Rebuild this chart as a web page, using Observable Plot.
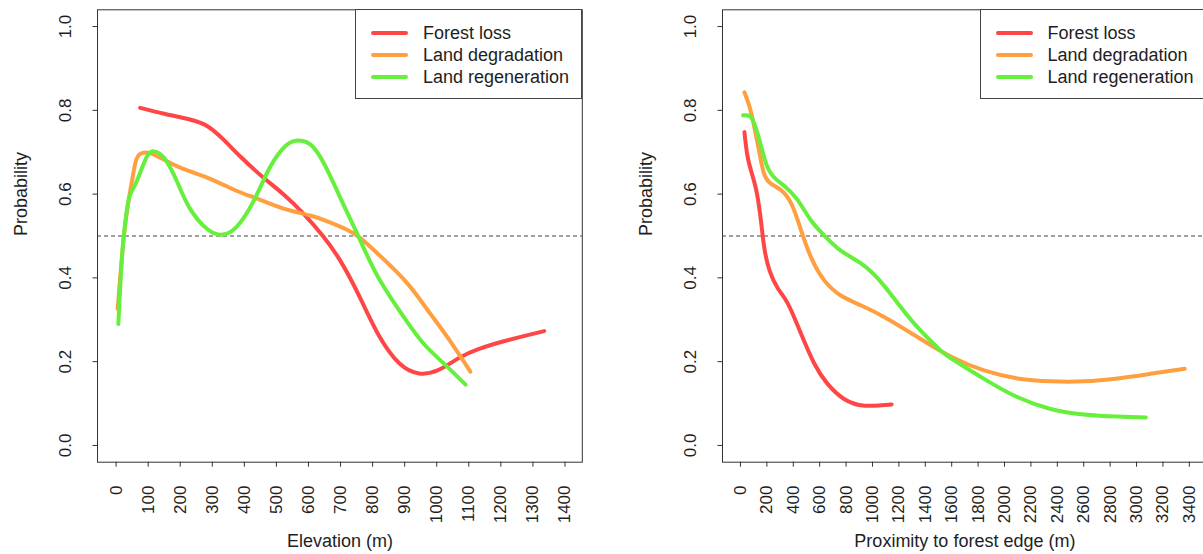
<!DOCTYPE html>
<html>
<head>
<meta charset="utf-8">
<script src="https://cdn.jsdelivr.net/npm/d3@7"></script>
<script src="https://cdn.jsdelivr.net/npm/@observablehq/plot@0.6"></script>
<style>
  html, body { margin: 0; padding: 0; background: #fff; }
  body { font-family: "Liberation Sans", Arial, Helvetica, sans-serif; color: #1e1e1e; }
  #wrap { position: relative; width: 1203px; height: 554px; overflow: hidden; background: #fff; }
  .panel { position: absolute; top: 0; width: 624px; height: 554px; }
  .panel svg { display: block; }
  .legend { position: absolute; left: 355px; top: 9px; width: 227px; height: 90px; box-sizing: border-box;
            border: 1px solid #444; background: #fff; }
  .entry { position: absolute; left: 0; height: 22px; width: 260px; }
  .entry .sw { position: absolute; left: 15px; top: 9px; width: 37px; height: 4px; border-radius: 2px; }
  .entry .lab { position: absolute; left: 67px; top: 0; font-size: 18px; line-height: 22px; white-space: nowrap; color: #1e1e1e; }
</style>
</head>
<body>
<div id="wrap">
  <div class="panel" id="p1" style="left:0px"></div>
  <div class="panel" id="p2" style="left:624.5px"></div>
</div>
<script>
// ---------- data ----------
const seriesNames = ["Forest loss", "Land degradation", "Land regeneration"];
const seriesColors = ["#ff4646", "#ff9f40", "#66ef3c"];

const yTicks = [0, 0.2, 0.4, 0.6, 0.8, 1.0];
const threshold = [0.5];

// Panel 1: Elevation
const elevTicks = [0, 100, 200, 300, 400, 500, 600, 700, 800, 900, 1000, 1100, 1200, 1300, 1400];
const lossElevX = [75, 150, 230, 285, 335, 390, 460, 520, 585, 645, 700, 760, 820, 885, 945, 1005, 1070, 1130, 1215, 1335];
const lossElevY = [0.806, 0.792, 0.778, 0.762, 0.730, 0.688, 0.639, 0.601, 0.553, 0.500, 0.440, 0.354, 0.262, 0.195, 0.172, 0.180, 0.209, 0.230, 0.250, 0.273];
const degElevX = [5, 25, 45, 60, 75, 105, 150, 210, 295, 375, 440, 520, 605, 665, 720, 760, 820, 905, 965, 1030, 1105];
const degElevY = [0.326, 0.505, 0.612, 0.674, 0.696, 0.698, 0.682, 0.660, 0.636, 0.608, 0.589, 0.566, 0.549, 0.533, 0.515, 0.496, 0.455, 0.390, 0.330, 0.262, 0.176];
const regElevX = [7, 20, 35, 45, 65, 95, 118, 150, 190, 230, 285, 330, 375, 430, 480, 530, 568, 615, 665, 700, 760, 820, 905, 965, 1030, 1090];
const regElevY = [0.290, 0.465, 0.569, 0.601, 0.632, 0.688, 0.702, 0.686, 0.630, 0.566, 0.516, 0.503, 0.521, 0.585, 0.664, 0.716, 0.728, 0.712, 0.648, 0.590, 0.492, 0.398, 0.298, 0.238, 0.190, 0.145];

// Panel 2: Proximity to forest edge
const proxTicks = [0, 200, 400, 600, 800, 1000, 1200, 1400, 1600, 1800, 2000, 2200, 2400, 2600, 2800, 3000, 3200, 3400];
const lossProxX = [30, 55, 95, 125, 155, 180, 220, 285, 360, 460, 560, 660, 785, 940, 1145];
const lossProxY = [0.748, 0.688, 0.640, 0.601, 0.537, 0.473, 0.418, 0.374, 0.338, 0.266, 0.195, 0.147, 0.111, 0.095, 0.098];
const degProxX = [30, 70, 105, 145, 180, 230, 305, 385, 460, 535, 635, 760, 915, 1115, 1365, 1600, 1845, 2100, 2350, 2600, 2855, 3105, 3365];
const degProxY = [0.843, 0.807, 0.760, 0.696, 0.648, 0.625, 0.610, 0.577, 0.513, 0.449, 0.394, 0.358, 0.334, 0.302, 0.254, 0.211, 0.179, 0.160, 0.153, 0.153, 0.160, 0.171, 0.183];
const regProxX = [20, 70, 105, 145, 195, 255, 345, 435, 535, 635, 760, 915, 1065, 1215, 1365, 1515, 1600, 1845, 2100, 2350, 2600, 2855, 3070];
const regProxY = [0.788, 0.786, 0.768, 0.728, 0.672, 0.640, 0.616, 0.585, 0.537, 0.501, 0.465, 0.434, 0.390, 0.330, 0.274, 0.227, 0.207, 0.159, 0.115, 0.087, 0.074, 0.069, 0.067];

// ---------- build ----------
const zip = (xs, ys) => xs.map((x, i) => ({x, y: ys[i]}));

function makePanel(curves, ticks, xDomain, xLabel) {
  const font = "Liberation Sans, Arial, Helvetica, sans-serif";
  return Plot.plot({
    width: 624,
    height: 554,
    marginLeft: 97,
    marginRight: 42.2,
    marginTop: 9.3,
    marginBottom: 92.3,
    style: {fontFamily: font, fontSize: "17px", color: "#1e1e1e", background: "#fff", overflow: "visible"},
    x: {domain: xDomain},
    y: {domain: [-0.04, 1.04]},
    marks: [
      Plot.ruleY(threshold, {stroke: "#444", strokeWidth: 1, strokeDasharray: "4,3"}),
      ...curves.map((c, i) => Plot.line(c, {x: "x", y: "y", stroke: seriesColors[i], strokeWidth: 4,
        strokeLinecap: "round", strokeLinejoin: "round", curve: "natural"})),
      Plot.frame({stroke: "#333", strokeWidth: 1}),
      Plot.axisX({ticks: ticks, tickSize: 5, tickPadding: 18.3, tickRotate: -90, tickFormat: d => String(d),
        label: null, fontSize: 17, stroke: "#333"}),
      Plot.axisY({ticks: yTicks, tickSize: 4.5, tickPadding: 22, tickRotate: -90, tickFormat: d => d.toFixed(1),
        label: null, fontSize: 17, stroke: "#333"}),
      Plot.text([xLabel], {frameAnchor: "bottom", dy: 79, fontSize: 18, lineAnchor: "middle"}),
      Plot.text(["Probability"], {frameAnchor: "left", dx: -76, rotate: -90, fontSize: 18, lineAnchor: "middle"})
    ]
  });
}

function makeLegend() {
  const lg = document.createElement("div");
  lg.className = "legend";
  const tops = [11.5, 33.8, 56.1];
  seriesNames.forEach((name, i) => {
    const e = document.createElement("div");
    e.className = "entry";
    e.style.top = tops[i] + "px";
    const sw = document.createElement("div");
    sw.className = "sw";
    sw.style.background = seriesColors[i];
    const lab = document.createElement("div");
    lab.className = "lab";
    lab.textContent = name;
    e.appendChild(sw); e.appendChild(lab);
    lg.appendChild(e);
  });
  return lg;
}

const p1 = document.getElementById("p1");
p1.appendChild(makePanel(
  [zip(lossElevX, lossElevY), zip(degElevX, degElevY), zip(regElevX, regElevY)],
  elevTicks, [-58, 1454], "Elevation (m)"));
p1.appendChild(makeLegend());

const p2 = document.getElementById("p2");
p2.appendChild(makePanel(
  [zip(lossProxX, lossProxY), zip(degProxX, degProxY), zip(regProxX, regProxY)],
  proxTicks, [-136, 3536], "Proximity to forest edge (m)"));
p2.appendChild(makeLegend());
</script>
</body>
</html>
